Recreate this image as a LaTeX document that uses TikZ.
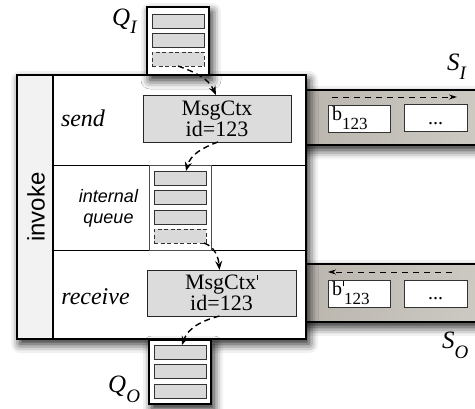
\documentclass[tikz,border=0pt]{standalone}
\usepackage{fontspec}
\setmainfont{Liberation Serif}
\setsansfont{Liberation Sans}
\usetikzlibrary{shadows.blur,arrows.meta}
\definecolor{slotgray}{HTML}{D9D9D9}
\definecolor{ctxgray}{HTML}{DCDCDC}
\definecolor{invgray}{HTML}{F2F2F2}
\definecolor{chanA}{HTML}{BAB6AE}
\definecolor{chanB}{HTML}{CDCAC4}
\newcommand\mylbl[3]{\textit{#1}\raisebox{-#3}{\fontsize{19}{19}\selectfont\textit{#2}}}
\newcommand\sq{\kern0.5pt\rule[0.45em]{0.9pt}{0.24em}\kern0.5pt}
\tikzset{
  box/.style={rectangle, inner sep=0pt, outer sep=0pt, anchor=north west},
  shad/.style={blur shadow={shadow xshift=3pt, shadow yshift=-5pt, shadow blur radius=9pt, shadow opacity=90}},
  slot/.style={box, draw=black!80, fill=slotgray, line width=0.6pt, minimum width=52pt, minimum height=14pt},
  dslot/.style={slot, dash pattern=on 4pt off 2.5pt},
  qbox/.style={box, draw=black, fill=white, line width=1.8pt, minimum width=62pt},
  ctx/.style={box, draw=black!85, fill=ctxgray, line width=0.7pt, align=center, font=\fontsize{22}{20}\selectfont},
  bbox/.style={box, draw=black!80, fill=white, line width=0.7pt, minimum width=62pt, minimum height=27pt},
  chan/.style={box, left color=chanA, right color=chanB, minimum width=185pt, minimum height=55pt},
  chline/.style={line width=1.5pt},
  flow/.style={-{Stealth[length=9pt,width=7pt]}, dash pattern=on 6pt off 4pt, line width=1.4pt},
  chflow/.style={-{Stealth[length=8pt,width=5pt]}, dash pattern=on 6pt off 5pt, line width=0.9pt},
  sectxt/.style={font=\fontsize{24}{24}\selectfont\itshape, anchor=base},
  sanstxt/.style={font=\fontsize{18}{21}\sffamily\itshape, anchor=base},
  lbl/.style={font=\fontsize{25}{25}\selectfont, anchor=base west, inner sep=0pt},
  btxt/.style={font=\fontsize{20}{20}\selectfont, anchor=base west, inner sep=0pt}
}
\begin{document}
\begin{tikzpicture}[x=1pt,y=-1pt]
\useasboundingbox (0,0) rectangle (475,408);
% channels
\node[chan, shad] (SI) at (300,90) {};
\draw[chline] (SI.north west) -- (SI.north east);
\draw[chline] (SI.south west) -- (SI.south east);
\node[chan, shad, minimum height=58pt] (SO) at (300,264) {};
\draw[chline] (SO.north west) -- (SO.north east);
\draw[chline] (SO.south west) -- (SO.south east);
% main box
\node[box, shad, fill=white, minimum width=289pt, minimum height=264pt] (main) at (17,75) {};
\node[box, fill=invgray, draw=black, line width=1.2pt, minimum width=36pt, minimum height=264pt] (inv) at (17,75) {};
\node[box, draw=black, line width=1.8pt, minimum width=289pt, minimum height=264pt] (mainb) at (17,75) {};
\node[rotate=90, font=\fontsize{24}{24}\sffamily] (invtxt) at (36,207) {invoke};
\coordinate (s1a) at (53,165); \coordinate (s1b) at (306,165);
\coordinate (s2a) at (53,250); \coordinate (s2b) at (306,250);
\draw[line width=0.8pt] (s1a) -- (s1b);
\draw[line width=0.8pt] (s2a) -- (s2b);
% section labels
\node[sectxt] (send) at (83,126) {send};
\node[sanstxt] (intl) at (108.5,202) {internal};
\node[sanstxt] (queue) at (108.5,223) {queue};
\node[sectxt] (recv) at (95.5,304) {receive};
% message contexts
\node[ctx, minimum width=148pt, minimum height=47pt] (ctx1) at (143,95) {MsgCtx\\id=123};
\node[ctx, minimum width=149pt, minimum height=46pt] (ctx2) at (147,270) {MsgCtx\sq\\id=123};
% internal queue
\node[box, draw=black!70, fill=white, line width=0.8pt, minimum width=62pt, minimum height=85pt] (iq) at (149,165) {};
\node[slot] (iq1) at (154,171) {};
\node[slot] (iq2) at (154,190) {};
\node[slot] (iq3) at (154,210) {};
\node[dslot] (iq4) at (154,229) {};
% Q_I
\node[qbox, shad, minimum height=68pt] (QI) at (147,7) {};
\node[slot] (qi1) at (152,14) {};
\node[slot] (qi2) at (152,33) {};
\node[dslot] (qi3) at (152,52) {};
% Q_O
\node[qbox, shad, minimum height=64pt] (QO) at (149,340) {};
\node[slot] (qo1) at (154,345) {};
\node[slot] (qo2) at (154,364) {};
\node[slot] (qo3) at (154,384) {};
% channel boxes
\node[bbox] (bI) at (328,105) {};
\node[bbox, minimum width=63pt] (dI) at (404,104) {};
\node[bbox] (bO) at (328,280) {};
\node[bbox, minimum width=63pt] (dO) at (404,280) {};
\node[btxt] (bItxt) at (332,120) {b\raisebox{-9pt}{\fontsize{17}{17}\selectfont 123}};
\node[btxt] (bOtxt) at (332,295) {b\sq\raisebox{-9pt}{\fontsize{17}{17}\selectfont 123}};
\node[btxt, anchor=base] (dItxt) at (435.5,124) {...};
\node[btxt, anchor=base] (dOtxt) at (435.5,299) {...};
\coordinate (si1) at (332,97); \coordinate (si2) at (457,97);
\draw[chflow] (si1) -- (si2);
\coordinate (so1) at (452,272); \coordinate (so2) at (328,272);
\draw[chflow] (so1) -- (so2);
% flow arrows
\draw[flow] ([xshift=0pt]qi3.south) to[out=-20,in=115] ([xshift=-1pt]ctx1.north);
\draw[flow] ([xshift=1pt]ctx1.south) to[out=200,in=75] ([xshift=6pt]iq1.north);
\draw[flow] ([xshift=-2pt]iq4.south east) to[out=-20,in=95] ([xshift=-2pt]ctx2.north);
\draw[flow] ([xshift=-2pt]ctx2.south) to[out=195,in=70] ([xshift=2pt]qo1.north);
% labels
\node[lbl] (lQI) at (112,25) {\mylbl{Q}{I}{8pt}};
\node[lbl] (lQO) at (108,392) {\mylbl{Q}{O}{10pt}};
\node[lbl] (lSI) at (447,70) {\mylbl{S}{I}{9pt}};
\node[lbl] (lSO) at (442,348) {\mylbl{S}{O}{10pt}};
\end{tikzpicture}
\end{document}
